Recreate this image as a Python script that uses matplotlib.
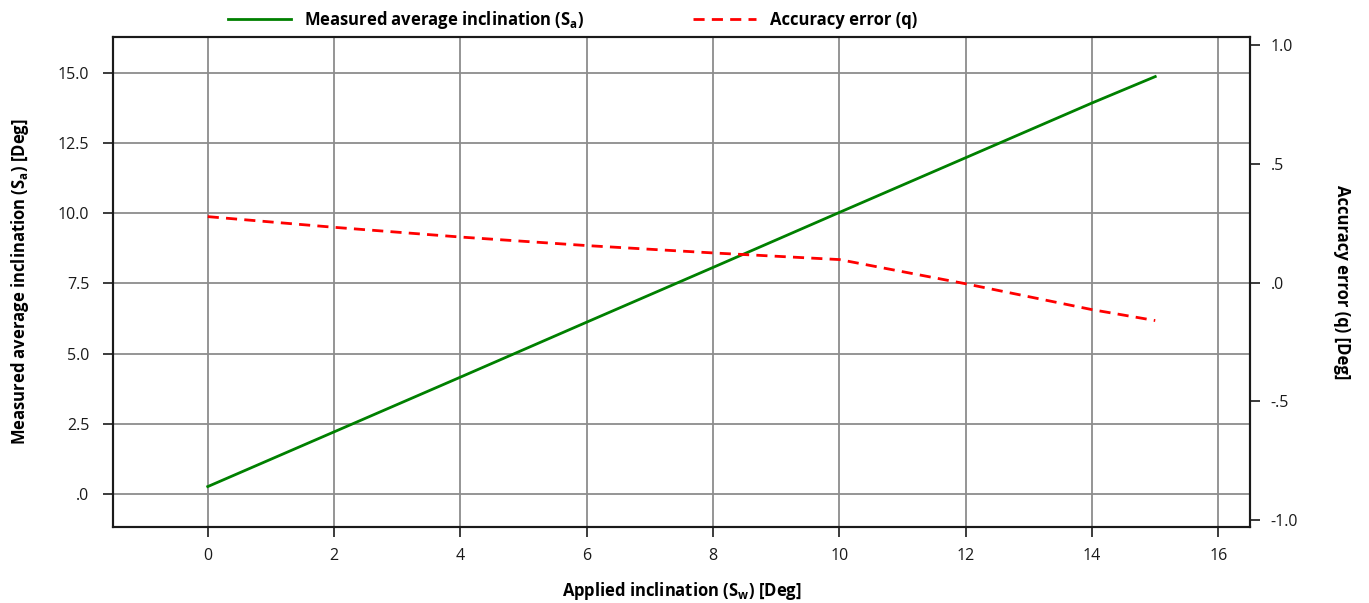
import matplotlib
matplotlib.use("Agg")
import matplotlib.pyplot as plt
from matplotlib.ticker import FuncFormatter

plt.rcParams['font.family'] = ['Open Sans', 'DejaVu Sans']
plt.rcParams['mathtext.default'] = 'regular'

# Applied inclination steps [Deg]
applied = [0, 2, 4, 6, 8, 10, 12, 14, 15]
# Measured average inclination S_a [Deg]
measured = [0.26, 2.21, 4.16, 6.12, 8.07, 10.03, 11.98, 13.93, 14.87]
# Accuracy error q [Deg]
error = [0.278, 0.233, 0.192, 0.156, 0.125, 0.097, -0.005, -0.114, -0.16]

x_ticks = [0, 2, 4, 6, 8, 10, 12, 14, 16]
left_ticks = [0, 2.5, 5.0, 7.5, 10.0, 12.5, 15.0]
right_ticks = [-1.0, -0.5, 0.0, 0.5, 1.0]


def strip_zero(v, _pos=None):
    s = f"{v:.1f}"
    if s.startswith("0."):
        s = s[1:]
    elif s.startswith("-0."):
        s = "-" + s[2:]
    return s


fig = plt.figure(figsize=(13.69, 6.03), dpi=100)
ax = fig.add_axes([113 / 1369, 1 - 527 / 603, (1250 - 113) / 1369, (527 - 37) / 603])
ax2 = ax.twinx()

ax.set_xlim(-1.5, 16.5)
ax.set_ylim(-1.18, 16.28)
ax2.set_ylim(-1.03, 1.035)

ax.set_xticks(x_ticks)
ax.set_yticks(left_ticks)
ax.yaxis.set_major_formatter(FuncFormatter(strip_zero))
ax2.set_yticks(right_ticks)
ax2.yaxis.set_major_formatter(FuncFormatter(strip_zero))

ax.grid(True, color='#8c8c8c', linewidth=1.3)
ax.set_axisbelow(True)

l1, = ax.plot(applied, measured, color='#008000', linewidth=2,
              label='Measured average inclination (S$_{a}$)')
l2, = ax2.plot(applied, error, color='#ff0000', linewidth=2, linestyle=(0, (4, 2.6)),
               label='Accuracy error (q)')

for a in (ax, ax2):
    for s in a.spines.values():
        s.set_color('#1a1a1a')
        s.set_linewidth(1.5)
    a.tick_params(axis='both', labelsize=11.5, colors='#1a1a1a', length=7, width=1.2)
ax.tick_params(axis='x', pad=8)
ax.tick_params(axis='y', pad=10)
ax2.tick_params(axis='y', pad=8)

ax.set_xlabel('Applied inclination (S$_{w}$) [Deg]', fontsize=12, fontweight='bold', labelpad=12)
ax.set_ylabel('Measured average inclination (S$_{a}$) [Deg]', fontsize=12, fontweight='bold', labelpad=19)
ax2.set_ylabel('Accuracy error (q) [Deg]', fontsize=12, fontweight='bold', rotation=270, labelpad=38)

fig.legend(handles=[l1, l2], loc='upper center', bbox_to_anchor=(0.418, 1.01), ncol=2,
           frameon=False, handlelength=3.8, columnspacing=6.5,
           prop={'size': 12, 'weight': 'bold'})

fig.savefig('out.png', dpi=100)
